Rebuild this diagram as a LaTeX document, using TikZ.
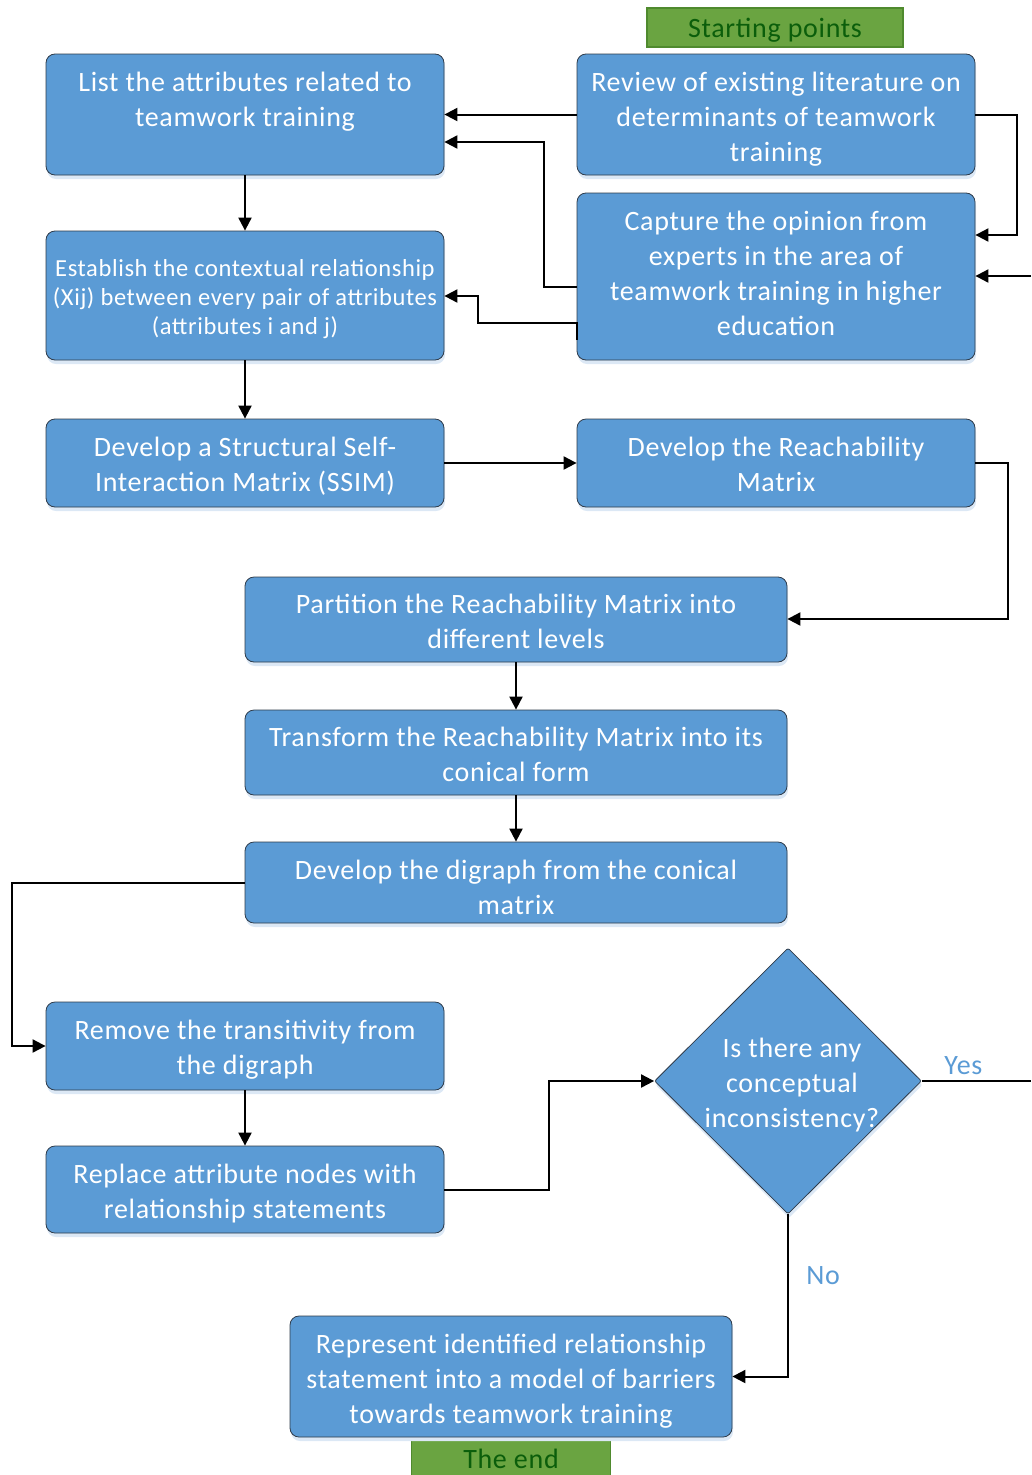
\documentclass[tikz,border=0pt]{standalone}
\usepackage{fontspec}
\setmainfont[LetterSpace=2.5]{Carlito}
\usetikzlibrary{shapes.geometric,arrows.meta,shadows}
\definecolor{boxblue}{HTML}{5B9BD5}
\definecolor{boxedge}{HTML}{2E3B4A}
\definecolor{shadowblue}{HTML}{DCE8F5}
\definecolor{gfill}{HTML}{6AA441}
\definecolor{gedge}{HTML}{4F8A2E}
\definecolor{gtext}{HTML}{0B5E0B}
\tikzset{
  box/.style={draw=boxedge, line width=0.8pt, fill=boxblue, rounded corners=9pt,
    drop shadow={shadow xshift=1pt, shadow yshift=-4pt, fill=shadowblue, opacity=1},
    inner sep=0pt},
  boxtext/.style={text=white, align=center, font=\fontsize{28}{35}\selectfont, inner sep=0pt},
  smalltext/.style={boxtext, font=\fontsize{24.5}{29}\selectfont},
  gbox/.style={draw=gedge, line width=1.2pt, fill=gfill, text=gtext,
    font=\fontsize{28}{30}\selectfont, inner sep=0pt},
  conn/.style={draw=black, line width=2pt},
  arr/.style={conn, -{Triangle[length=13pt,width=13pt]}},
  lbl/.style={text=boxblue, font=\fontsize{28}{30}\selectfont},
}
\begin{document}
\begin{tikzpicture}[x=1pt,y=-1pt]
\useasboundingbox (0,0) rectangle (1031,1475);
% boxes
\node[box, minimum width=398pt, minimum height=121pt,
  label={[boxtext, yshift=-8pt]center:List the attributes related to\\teamwork training\\\strut}] (A) at (245,114.5) {};
\node[box, minimum width=398pt, minimum height=121pt,
  label={[boxtext, yshift=-5pt]center:Review of existing literature on\\determinants of teamwork\\training}] (B) at (776,114.5) {};
\node[box, minimum width=398pt, minimum height=167pt,
  label={[boxtext, yshift=3pt]center:Capture the opinion from\\experts in the area of\\teamwork training in higher\\education}] (C) at (776,276.5) {};
\node[box, minimum width=398pt, minimum height=129pt,
  label={[smalltext, yshift=-4pt]center:Establish the contextual relationship\\(Xij) between every pair of attributes\\(attributes i and j)}] (D) at (245,295.5) {};
\node[box, minimum width=398pt, minimum height=88pt,
  label={[boxtext, yshift=-3pt]center:Develop a Structural Self-\\Interaction Matrix (SSIM)}] (E) at (245,463) {};
\node[box, minimum width=398pt, minimum height=88pt,
  label={[boxtext, yshift=-1pt]center:Develop the Reachability\\Matrix}] (F) at (776,463) {};
\node[box, minimum width=542pt, minimum height=85pt,
  label={[boxtext, yshift=-2pt]center:Partition the Reachability Matrix into\\different levels}] (G) at (516,619.5) {};
\node[box, minimum width=542pt, minimum height=85pt,
  label={[boxtext, yshift=-2pt]center:Transform the Reachability Matrix into its\\conical form}] (H) at (516,752.5) {};
\node[box, minimum width=542pt, minimum height=81pt,
  label={[boxtext, yshift=-5pt]center:Develop the digraph from the conical\\matrix}] (I) at (516,882.5) {};
\node[box, minimum width=398pt, minimum height=88pt,
  label={[boxtext, yshift=-4pt]center:Remove the transitivity from\\the digraph}] (J) at (245,1046) {};
\node[box, minimum width=398pt, minimum height=87pt,
  label={[boxtext, yshift=-4pt]center:Replace attribute nodes with\\relationship statements}] (K) at (245,1189.5) {};
\node[gbox, minimum width=199pt, minimum height=42pt, anchor=north] (END) at (511,1437)
  {The end};
\node[box, minimum width=442pt, minimum height=121pt,
  label={[boxtext, yshift=-5pt]center:Represent identified relationship\\statement into a model of barriers\\towards teamwork training}] (L) at (511,1376.5) {};
\node[box, diamond, rounded corners=2pt, minimum width=267pt, minimum height=266pt,
  label={[boxtext, xshift=4pt, yshift=-4pt]center:Is there any\\conceptual\\inconsistency?}] (Q) at (788,1081) {};
\node[gbox, minimum width=256pt, minimum height=39pt] (START) at (775,27.5)
  {\rule{0pt}{24pt}Starting points};
% coordinates
\coordinate (R1) at (1031,276);
\coordinate (Y) at (1031,1081);
% connectors
\draw[arr] (B.west) -- (A.east |- B.west);
\draw[arr] ([yshift=-10.5pt]C.west) -- ++(-33,0) |- ([yshift=-27.5pt]A.east);
\draw[arr] ([yshift=-63.5pt]C.west) -- ++(0,-17) -- ++(-99,0) |- ([yshift=-0.5pt]D.east);
\draw[arr] (B.east) -- ++(42,0) |- ([yshift=41.5pt]C.east);
\draw[arr] (R1) -- (C.east |- R1);
\draw[arr] (A.south) -- (D.north);
\draw[arr] (D.south) -- (E.north);
\draw[arr] (E.east) -- (F.west);
\draw[arr] (F.east) -- ++(33,0) |- ([yshift=0.5pt]G.east);
\draw[arr] (G.south) -- (H.north);
\draw[arr] (H.south) -- (I.north);
\draw[arr] (I.west) -- ++(-233,0) |- (J.west);
\draw[arr] (J.south) -- (K.north);
\draw[arr] (K.east) -- ++(105,0) |- (Q.west);
\draw[conn] (Q.east) -- node[lbl, above, pos=0.38, yshift=2pt] {Yes} (Y);
\draw[arr] (Q.south) |- node[lbl, pos=0.19, right, xshift=14pt] {No} (L.east);
\end{tikzpicture}
\end{document}
